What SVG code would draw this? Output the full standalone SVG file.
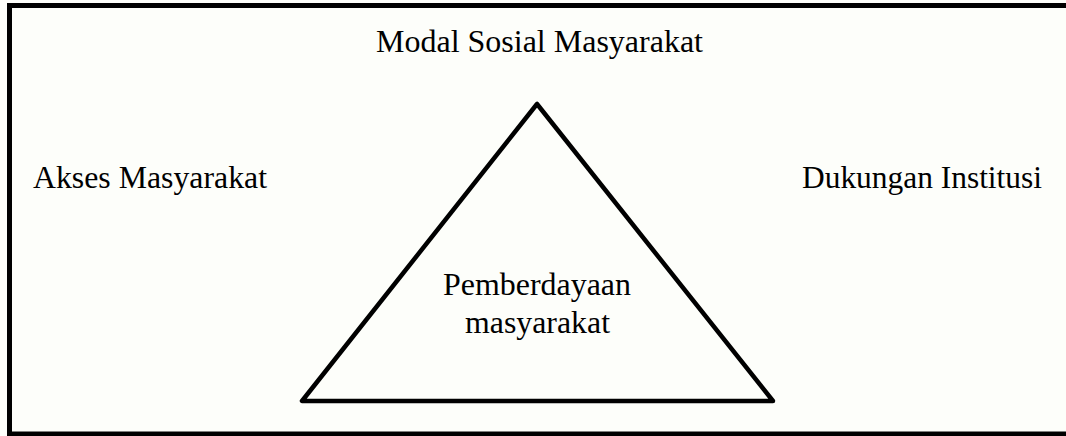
<svg xmlns="http://www.w3.org/2000/svg" width="1066" height="436" viewBox="0 0 1066 436">
<style>
.t{font-family:'Liberation Serif','Times New Roman',Times,serif;font-size:31px;fill:#000}
.line{fill:none;stroke:#000}
</style>
<rect x="0" y="0" width="1066" height="436" fill="#fdfefa"/>
<g id="frame"><rect class="line" x="9.5" y="5.5" width="1070" height="428.5" stroke-width="5"/></g>
<g id="connectors">
<polygon id="triangle" class="line" points="537,104 302,401 773,401" stroke-width="4.5" stroke-linejoin="round"/>
</g>
<g id="node-modal"><text class="t" x="376" y="52" textLength="327" lengthAdjust="spacingAndGlyphs">Modal Sosial Masyarakat</text></g>
<g id="node-akses"><text class="t" x="33" y="188" textLength="234" lengthAdjust="spacingAndGlyphs">Akses Masyarakat</text></g>
<g id="node-dukungan"><text class="t" x="802" y="188" textLength="240" lengthAdjust="spacingAndGlyphs">Dukungan Institusi</text></g>
<g id="node-pemberdayaan">
<text class="t" x="443" y="295" textLength="188" lengthAdjust="spacingAndGlyphs">Pemberdayaan</text>
<text class="t" x="465" y="333" textLength="145" lengthAdjust="spacingAndGlyphs">masyarakat</text>
</g>
</svg>
